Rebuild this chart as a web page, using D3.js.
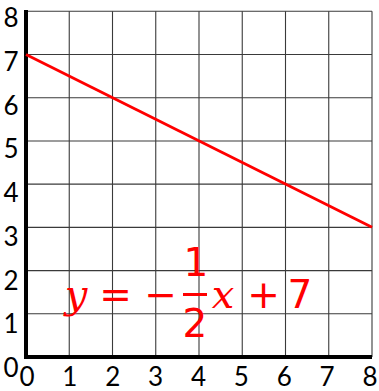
<!DOCTYPE html>
<html><head><meta charset="utf-8">
<script src="https://cdn.jsdelivr.net/npm/d3@7"></script>
<style>html,body{margin:0;padding:0;background:#fff;}</style>
</head><body>
<svg id="c" width="379" height="391"></svg>
<script>
const xTicks = [0,1,2,3,4,5,6,7,8];
const yTicks = [0,1,2,3,4,5,6,7,8];
const lineX = [0, 8];
const lineY = [7, 3];
const slopeNum = "1", slopeDen = "2", intercept = "7";

const svg = d3.select("#c");
const x = d3.scaleLinear().domain([0,8]).range([26,372]);
const y = d3.scaleLinear().domain([0,8]).range([357,11.3]);
const xLab = d3.scaleLinear().domain([0,8]).range([27,370]);
const yLab = d3.scaleLinear().domain([0,8]).range([377,27]);

// grid
svg.append("g").selectAll("line").data(xTicks.slice(1)).join("line")
  .attr("x1", d=>x(d)).attr("x2", d=>x(d)).attr("y1", y(8)).attr("y2", y(0))
  .attr("stroke","#3a3a3a").attr("stroke-width",1.1);
svg.append("g").selectAll("line").data(yTicks.slice(1)).join("line")
  .attr("y1", d=>y(d)).attr("y2", d=>y(d)).attr("x1", x(0)).attr("x2", x(8))
  .attr("stroke","#3a3a3a").attr("stroke-width",1.1);

// axes
svg.append("line").attr("x1", x(0)).attr("x2", x(0)).attr("y1", 10).attr("y2", y(0)+2)
  .attr("stroke","#000").attr("stroke-width",4);
svg.append("line").attr("x1", x(0)-2).attr("x2", x(8)).attr("y1", y(0)).attr("y2", y(0))
  .attr("stroke","#000").attr("stroke-width",4);

// tick labels
const tf = "Lato, 'Liberation Sans', sans-serif";
svg.append("g").selectAll("text").data(xTicks).join("text")
  .attr("x", d=>xLab(d)).attr("y", 386).attr("text-anchor","middle")
  .attr("font-family", tf).attr("font-size", 26).attr("fill","#000").text(d=>d);
svg.append("g").selectAll("text").data(yTicks).join("text")
  .attr("x", 11).attr("y", d=>yLab(d)).attr("text-anchor","middle")
  .attr("font-family", tf).attr("font-size", 26).attr("fill","#000").text(d=>d);

// line
const data = lineX.map((v,i)=>[v,lineY[i]]);
svg.append("path").datum(data)
  .attr("d", d3.line().x(d=>x(d[0])).y(d=>y(d[1])))
  .attr("stroke","#ff0000").attr("stroke-width",2.8).attr("fill","none");

// equation
const red = "#ff0000";
const g = svg.append("g").attr("fill", red);
const ital = "'DejaVu Serif', serif";
const sans = "'DejaVu Sans', sans-serif";
function t(txt, cx, by, fam, style, size){
  g.append("text").attr("x",cx).attr("y",by).attr("text-anchor","middle")
   .attr("font-family",fam).attr("font-style",style).attr("font-size",size).text(txt);
}
t("y", 76, 308, ital, "italic", 40);
t("=", 115.5, 308, sans, "normal", 39);
t("\u2212", 160.5, 308, sans, "normal", 39);
t(slopeNum, 196, 276, sans, "normal", 39);
g.append("line").attr("x1",183).attr("x2",207).attr("y1",294.5).attr("y2",294.5)
  .attr("stroke",red).attr("stroke-width",3);
t(slopeDen, 195, 337, sans, "normal", 39);
t("x", 223, 308, ital, "italic", 40);
t("+", 263.5, 308, sans, "normal", 39);
t(intercept, 300, 308, sans, "normal", 39);
</script>
</body></html>
